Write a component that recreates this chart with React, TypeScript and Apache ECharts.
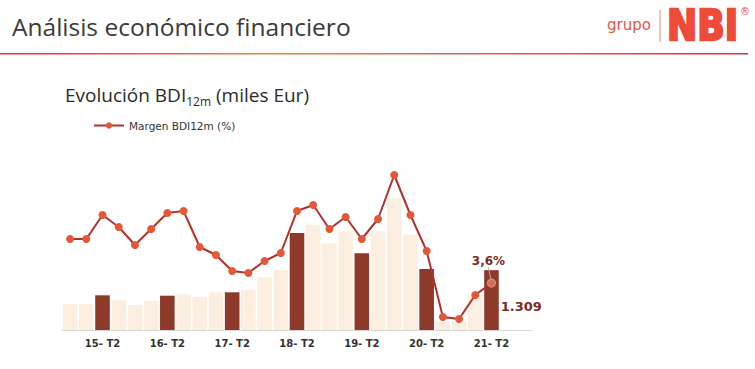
import React, { useEffect, useRef } from "react";
import * as echarts from "echarts";

const categories = [
  "14- T4",
  "15- T1", "15- T2", "15- T3", "15- T4",
  "16- T1", "16- T2", "16- T3", "16- T4",
  "17- T1", "17- T2", "17- T3", "17- T4",
  "18- T1", "18- T2", "18- T3", "18- T4",
  "19- T1", "19- T2", "19- T3", "19- T4",
  "20- T1", "20- T2", "20- T3", "20- T4",
  "21- T1", "21- T2",
  "", "",
];

// BDI 12m (miles Eur)
const bdiValues = [
  569,
  569, 759, 663, 547,
  634, 750, 781, 722,
  825, 825, 882, 1153,
  1319, 2122, 2303, 1896,
  2159, 1678, 2159, 2881,
  2085, 1334, 190, 190,
  772, 1309,
];

// Margen BDI12m (%)
const marginValues = [
  5.8,
  5.8, 7.0, 6.4, 5.5,
  6.3, 7.1, 7.2, 5.4,
  5.0, 4.2, 4.1, 4.7,
  5.1, 7.2, 7.5, 6.3,
  6.9, 5.8, 6.8, 9.0,
  7.0, 5.2, 1.9, 1.8,
  3.0, 3.6,
];

const lastBarLabel = "1.309";
const lastMarginLabel = "3,6%";

const DARK = "#8d3a2b";
const LIGHT = "#fcefe1";
const LINE = "#b3302a";
const DOT = "#e4583a";

export default function App() {
  const ref = useRef<HTMLDivElement>(null);
  useEffect(() => {
    document.body.style.margin = "0";
    if (!ref.current) return;
    const chart = echarts.init(ref.current, undefined, { renderer: "svg" });
    const lastIdx = bdiValues.length - 1;
    const barData = bdiValues.map((v, i) =>
      i === lastIdx
        ? {
            value: v,
            label: {
              show: true,
              position: "right",
              formatter: lastBarLabel,
              offset: [0, 6],
              color: "#7e2a22",
              fontWeight: "bold",
              fontSize: 13,
              fontFamily: "DejaVu Sans",
              distance: 2,
            },
          }
        : v
    );
    const lineData = marginValues.map((v, i) =>
      i === lastIdx
        ? {
            value: v,
            itemStyle: { color: "rgba(255,235,225,0.35)", borderColor: "#f07a5c", borderWidth: 1.5 },
            label: {
              show: true,
              position: "top",
              formatter: lastMarginLabel,
              color: "#7e2a22",
              fontWeight: "bold",
              fontSize: 12,
              fontFamily: "DejaVu Sans",
              distance: 5,
            },
          }
        : v
    );
    chart.setOption({
      animation: false,
      backgroundColor: "#ffffff",
      textStyle: { fontFamily: "DejaVu Sans" },
      title: {
        text: "Evolución BDI{sub|12m} (miles Eur)",
        left: 60,
        top: 78,
        textStyle: {
          fontFamily: "Open Sans",
          fontSize: 19,
          fontWeight: "normal",
          color: "#2b2b2b",
          rich: {
            sub: { fontFamily: "Open Sans", fontSize: 12, color: "#2b2b2b", verticalAlign: "bottom", padding: [12, 0, 0, 0] },
          },
        },
      },
      legend: {
        data: ["Margen BDI12m (%)"],
        left: 88,
        top: 115,
        itemWidth: 30,
        itemHeight: 8,
        itemGap: 2,
        textStyle: { fontFamily: "DejaVu Sans", fontSize: 10.5, color: "#333" },
      },
      grid: { left: 62, top: 170, width: 470, height: 160 },
      xAxis: {
        type: "category",
        data: categories,
        boundaryGap: true,
        axisLine: { lineStyle: { color: "#d8d8d8", width: 1 } },
        axisTick: { show: false },
        axisLabel: {
          interval: (_i: number, v: string) => v.endsWith("T2"),
          color: "#333",
          fontSize: 10,
          fontWeight: "bold",
          fontFamily: "DejaVu Sans",
          margin: 8,
        },
      },
      yAxis: [
        { type: "value", min: 0, max: 3500, show: false, splitLine: { show: false } },
        { type: "value", min: 1.25, max: 9.25, show: false, splitLine: { show: false } },
      ],
      series: [
        {
          name: "BDI12m",
          type: "bar",
          data: barData,
          barCategoryGap: "10%",
          itemStyle: {
            color: (p: any) => (p.dataIndex % 4 === 2 ? DARK : LIGHT),
          },
        },
        {
          name: "Margen BDI12m (%)",
          type: "line",
          yAxisIndex: 1,
          data: lineData,
          symbol: "circle",
          symbolSize: 8,
          lineStyle: { color: LINE, width: 2 },
          itemStyle: { color: DOT },
          labelLayout: { dx: -3, dy: -6 },
          labelLine: { show: true, lineStyle: { color: "#aaaaaa", width: 1 } },
        },
      ],
      graphic: [
        {
          type: "text",
          left: 12,
          top: 14,
          style: {
            text: "Análisis económico financiero",
            font: "24.5px 'Open Sans'",
            fill: "#3a3a3a",
          },
        },
        {
          type: "rect",
          shape: { x: 0, y: 53, width: 748, height: 1.5 },
          style: {
            fill: new echarts.graphic.LinearGradient(0, 0, 1, 0, [
              { offset: 0, color: "#e0303a" },
              { offset: 0.35, color: "#e8823c" },
              { offset: 0.7, color: "#e05a40" },
              { offset: 1, color: "#d9304a" },
            ]),
          },
        },
        {
          type: "text",
          x: 607,
          y: 17,
          style: { text: "grupo", font: "15px 'DejaVu Sans'", fill: "#e05545" },
        },
        {
          type: "line",
          shape: { x1: 660, y1: 10, x2: 660, y2: 42 },
          style: { stroke: "#e88a80", lineWidth: 1 },
        },
        {
          type: "text",
          x: 667,
          y: 5,
          scaleX: 0.86,
          style: {
            text: "NBI",
            font: "bold 42px 'DejaVu Sans'",
            fill: "#ef4b3b",
            stroke: "#ef4b3b",
            lineWidth: 2.5,
          },
        },
        {
          type: "text",
          x: 740,
          y: 6,
          style: { text: "®", font: "10px 'DejaVu Sans'", fill: "#ef4b3b" },
        },
      ],
    });
    return () => chart.dispose();
  }, []);
  return <div ref={ref} style={{ width: 755, height: 369 }} />;
}
